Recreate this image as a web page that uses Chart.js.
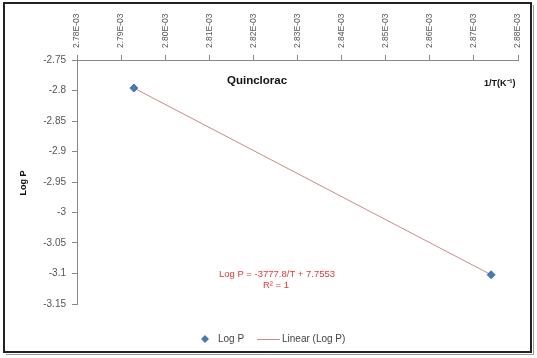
<!DOCTYPE html>
<html>
<head>
<meta charset="utf-8">
<script src="https://cdn.jsdelivr.net/npm/chart.js@4"></script>
<style>
html,body{margin:0;padding:0;background:#fff;}
#wrap{width:537px;height:358px;position:relative;}
</style>
</head>
<body>
<div id="wrap"><canvas id="c" width="537" height="358"></canvas></div>
<script>
// Data
const invT = [0.0027929, 0.0028739];        // 1/T (K^-1)
const logP = [-2.796, -3.102];              // Log P
const xTickValues = [0.00278,0.00279,0.00280,0.00281,0.00282,0.00283,0.00284,0.00285,0.00286,0.00287,0.00288];
const xTickLabels = ['2.78E-03','2.79E-03','2.80E-03','2.81E-03','2.82E-03','2.83E-03','2.84E-03','2.85E-03','2.86E-03','2.87E-03','2.88E-03'];
const yTickValues = [-2.75,-2.8,-2.85,-2.9,-2.95,-3,-3.05,-3.1,-3.15];
const yTickLabels = ['-2.75','-2.8','-2.85','-2.9','-2.95','-3','-3.05','-3.1','-3.15'];
const seriesLabel = 'Log P';
const trendLabel = 'Linear (Log P)';
const chartTitle = 'Quinclorac';
const xTitle = '1/T(K\u207B\u00B9)';
const yTitle = 'Log P';
const equationText = 'Log P = -3777.8/T + 7.7553';
const r2Text = 'R\u00B2 = 1';

const pts = invT.map((x,i)=>({x:x,y:logP[i]}));
const FONT = "'Liberation Sans', Arial, sans-serif";
const markerColor = '#4a78b5';
const lineColor = '#c98a86';

const overlay = {
  id:'overlay',
  afterDraw(chart){
    const ctx = chart.ctx;
    ctx.save();
    // outer border
    ctx.strokeStyle = '#222';
    ctx.lineWidth = 2;
    ctx.strokeRect(4,3,527,349);
    ctx.strokeStyle = '#999';
    ctx.lineWidth = 1;
    ctx.beginPath(); ctx.moveTo(533.5,5); ctx.lineTo(533.5,354.5); ctx.lineTo(6,354.5); ctx.stroke();

    // x tick labels (vertical, reading bottom to top), centred on tick positions
    const xs = chart.scales.x;
    ctx.fillStyle = '#555';
    ctx.font = "8.5px " + FONT;
    ctx.textAlign = 'left';
    ctx.textBaseline = 'middle';
    xTickValues.forEach((v,i)=>{
      const px = xs.getPixelForValue(v);
      ctx.save();
      ctx.translate(px, 48);
      ctx.rotate(-Math.PI/2);
      ctx.fillText(xTickLabels[i], 0, 0);
      ctx.restore();
    });

    ctx.textBaseline = 'middle';
    // chart title
    ctx.fillStyle = '#111';
    ctx.font = "bold 11.5px " + FONT;
    ctx.textAlign = 'left';
    ctx.fillText(chartTitle, 227, 81);
    // x title
    ctx.font = "bold 9px " + FONT;
    ctx.fillText(xTitle, 484, 84);
    // y title
    ctx.save();
    ctx.translate(24,183);
    ctx.rotate(-Math.PI/2);
    ctx.textAlign = 'center';
    ctx.font = "bold 9px " + FONT;
    ctx.fillText(yTitle,0,0);
    ctx.restore();
    // equation
    ctx.fillStyle = '#e03a3a';
    ctx.font = "9.5px " + FONT;
    ctx.textAlign = 'center';
    ctx.fillText(equationText, 277, 274);
    ctx.fillText(r2Text, 276, 285);

    // legend
    const ly = 339;
    ctx.fillStyle = markerColor;
    ctx.beginPath();
    ctx.moveTo(205,ly-4); ctx.lineTo(209,ly); ctx.lineTo(205,ly+4); ctx.lineTo(201,ly); ctx.closePath(); ctx.fill();
    ctx.fillStyle = '#444';
    ctx.font = "10px " + FONT;
    ctx.textAlign = 'left';
    ctx.fillText(chart.data.datasets[0].label, 218, ly);
    ctx.strokeStyle = lineColor;
    ctx.lineWidth = 1;
    ctx.beginPath(); ctx.moveTo(257,ly+0.5); ctx.lineTo(280,ly+0.5); ctx.stroke();
    ctx.fillText(chart.data.datasets[1].label, 282, ly);
    ctx.restore();
  }
};

new Chart(document.getElementById('c'), {
  type:'scatter',
  data:{
    datasets:[
      {label:seriesLabel, data:pts, showLine:false, pointStyle:'rectRot', pointRadius:4, pointHoverRadius:4,
       backgroundColor:markerColor, borderColor:markerColor, borderWidth:1, order:1},
      {label:trendLabel, data:pts, showLine:true, pointRadius:0, borderColor:lineColor, borderWidth:1, fill:false, order:2}
    ]
  },
  plugins:[overlay],
  options:{
    responsive:false,
    animation:false,
    devicePixelRatio:1,
    layout:{padding:{left:0,right:19,top:0,bottom:54}},
    plugins:{legend:{display:false}, tooltip:{enabled:false}},
    scales:{
      x:{
        type:'linear', position:'top', min:xTickValues[0], max:xTickValues[xTickValues.length-1],
        afterBuildTicks:(s)=>{ s.ticks = xTickValues.map(v=>({value:v})); },
        afterFit:(s)=>{ s.height = 60; },
        grid:{display:true, drawOnChartArea:false, drawTicks:true, tickLength:5, color:'#888'},
        border:{display:true, color:'#888'},
        ticks:{display:false}
      },
      y:{
        type:'linear', position:'left', min:-3.15, max:-2.75,
        afterBuildTicks:(s)=>{ s.ticks = yTickValues.map(v=>({value:v})); },
        afterFit:(s)=>{ s.width = 77; },
        grid:{display:true, drawOnChartArea:false, drawTicks:true, tickLength:5, color:'#888'},
        border:{display:true, color:'#888'},
        ticks:{autoSkip:false, padding:6, color:'#555', font:{family:FONT, size:10},
          callback:(v,i)=>yTickLabels[i]}
      }
    }
  }
});
</script>
</body>
</html>
